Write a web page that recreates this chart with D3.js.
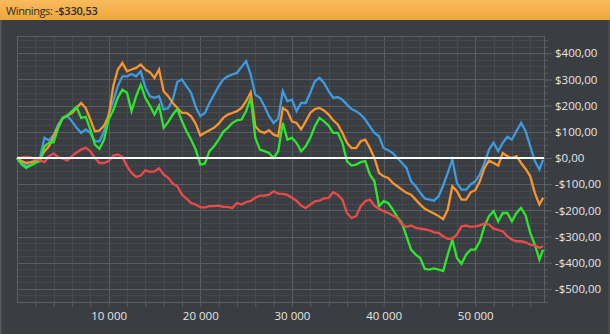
<!DOCTYPE html>
<html>
<head>
<meta charset="utf-8">
<script src="https://cdn.jsdelivr.net/npm/d3@7"></script>
<style>
  body { margin: 0; background: #3a3d41; overflow: hidden; }
  text { font-family: "Open Sans", sans-serif; }
</style>
</head>
<body>
<svg id="chart" width="610" height="334"></svg>
<script>
// hands played, in thousands
var steps = [0,0.5,1,1.5,2,2.5,3,3.5,4,4.5,5,5.5,6,6.5,7,7.5,8,8.5,9,9.5,
  10,10.5,11,11.5,12,12.5,13,13.5,14,14.5,15,15.5,16,16.5,17,17.5,18,18.5,19,19.5,
  20,20.5,21,21.5,22,22.5,23,23.5,24,24.5,25,25.5,26,26.5,27,27.5,28,28.5,29,29.5,
  30,30.5,31,31.5,32,32.5,33,33.5,34,34.5,35,35.5,36,36.5,37,37.5,38,38.5,39,39.5,
  40,40.5,41,41.5,42,42.5,43,43.5,44,44.5,45,45.5,46,46.5,47,47.5,48,48.5,49,49.5,
  50,50.5,51,51.5,52,52.5,53,53.5,54,54.5,55,55.5,56,56.5,57,57.4];

var blue = [0,-19,-31,-25,-19,0,77,67,89,128,153,160,140,115,96,109,96,64,64,102,
  166,217,274,312,312,321,312,331,270,236,230,236,185,191,223,291,300,274,249,195,
  160,172,210,242,274,300,312,319,325,348,370,319,242,230,198,160,134,150,255,217,
  223,179,210,210,249,293,306,287,255,230,233,223,204,187,179,166,147,121,96,83,
  38,30,19,0,-19,-38,-89,-108,-133,-155,-159,-163,-146,-105,-57,-6,-95,-121,-121,-101,
  -89,-63,-19,32,58,26,58,81,70,103,134,102,45,-12,-44,-6];
var orange = [0,-12,-19,-16,-12,-3,26,45,83,121,153,162,172,191,210,191,147,102,105,124,
  159,274,338,363,331,338,344,357,338,328,306,338,255,236,210,191,172,172,159,131,
  86,96,106,115,131,153,166,172,179,191,217,250,121,102,96,106,89,83,191,179,
  140,134,109,140,172,187,191,182,166,144,128,96,58,38,38,64,70,38,0,-57,
  -70,-76,-95,-108,-121,-133,-140,-159,-178,-194,-203,-212,-222,-233,-197,-108,-127,-159,-159,-131,
  -123,-89,-38,-10,-19,-29,19,7,0,7,-19,-42,-70,-133,-178,-152];
var green = [0,-25,-38,-29,-19,-12,45,58,60,115,153,163,179,195,153,157,109,51,35,70,
  147,182,230,261,249,179,236,280,230,200,166,200,115,138,166,187,140,102,70,32,
  -25,-21,26,45,70,100,115,134,144,147,179,230,77,32,26,19,0,26,134,70,
  77,58,26,45,77,121,153,140,124,96,96,58,-12,-29,-25,-16,-12,-63,-89,-184,
  -165,-172,-197,-225,-248,-299,-350,-369,-382,-424,-426,-422,-426,-432,-369,-312,-382,-404,-369,-350,
  -350,-318,-261,-222,-203,-242,-210,-210,-242,-210,-191,-219,-286,-331,-388,-350];
var red = [0,2,4,2,-3,-9,-16,7,17,4,-3,-10,7,21,32,39,26,0,-19,-19,
  -12,9,13,4,-31,-57,-72,-67,-47,-53,-51,-39,-63,-76,-98,-108,-140,-155,-172,-178,
  -188,-189,-184,-184,-182,-187,-187,-191,-172,-178,-168,-164,-152,-144,-144,-140,-127,-136,-137,-141,
  -152,-163,-182,-191,-178,-166,-163,-154,-152,-131,-140,-159,-210,-229,-222,-184,-165,-159,-182,-194,
  -203,-210,-220,-229,-254,-263,-258,-267,-270,-273,-276,-284,-286,-299,-309,-309,-292,-261,-258,-263,
  -261,-257,-250,-254,-270,-275,-280,-299,-312,-318,-318,-322,-331,-334,-343,-337];

var yTicks = [-500,-400,-300,-200,-100,0,100,200,300,400];
var xTicks = [10000,20000,30000,40000,50000];
var title = "Winnings:";
var total = "-$330,53";

var series = [
  { name: "blue", color: "#3d9be0", values: blue },
  { name: "orange", color: "#f7952f", values: orange },
  { name: "green", color: "#2fe62f", values: green },
  { name: "red", color: "#ec4a4a", values: red }
];

var svg = d3.select("#chart");
var plotL = 17, plotR = 544, plotT = 36, plotB = 302;

var x = d3.scaleLinear().domain([0, 57500]).range([plotL, plotR]);
var y = d3.scaleLinear().domain([-550, 466]).range([plotB, plotT]);

var money = function (v) {
  return (v < 0 ? "-" : "") + "$" + Math.abs(v).toFixed(2).replace(".", ",");
};
var thousands = function (v) { return d3.format(",")(v).replace(/,/g, " "); };

// title bar
var defs = svg.append("defs");
var grad = defs.append("linearGradient").attr("id", "titlegrad")
    .attr("x1", 0).attr("y1", 0).attr("x2", 0).attr("y2", 1);
grad.append("stop").attr("offset", "0%").attr("stop-color", "#f9bb5c");
grad.append("stop").attr("offset", "100%").attr("stop-color", "#f0a53d");

svg.append("rect").attr("x", 0).attr("y", 0).attr("width", 610).attr("height", 20)
    .attr("fill", "url(#titlegrad)");
var t = svg.append("text").attr("x", 6).attr("y", 14.5)
    .attr("font-size", 11).attr("fill", "#2b2b2b");
t.append("tspan").attr("letter-spacing", -0.4).text(title + " ");
t.append("tspan").attr("font-weight", 600).attr("letter-spacing", -0.2).text(total);

// window edges
svg.append("rect").attr("x", 0).attr("y", 20).attr("width", 1.5).attr("height", 314).attr("fill", "#55595e");
svg.append("rect").attr("x", 608.5).attr("y", 20).attr("width", 1.5).attr("height", 314).attr("fill", "#4a4e52");

// grid
var grid = svg.append("g");
var vMinor = d3.range(2000, 57500, 2000);
grid.selectAll(".vg").data(vMinor).enter().append("line")
    .attr("x1", function (d) { return Math.round(x(d)) + 0.5; })
    .attr("x2", function (d) { return Math.round(x(d)) + 0.5; })
    .attr("y1", plotT).attr("y2", plotB)
    .attr("stroke", function (d) { return d % 10000 === 0 ? "#5a5e62" : "#484c50"; })
    .attr("stroke-width", 1);

var hMinor = d3.range(-550, 466, 25);
grid.selectAll(".hg").data(hMinor).enter().append("line")
    .attr("x1", plotL).attr("x2", plotR)
    .attr("y1", function (d) { return Math.round(y(d)) + 0.5; })
    .attr("y2", function (d) { return Math.round(y(d)) + 0.5; })
    .attr("stroke", function (d) { return d % 100 === 0 ? "#5a5e62" : "#45494d"; })
    .attr("stroke-width", 1);

svg.append("rect").attr("x", plotL + 0.5).attr("y", plotT + 0.5)
    .attr("width", plotR - plotL).attr("height", plotB - plotT)
    .attr("fill", "none").attr("stroke", "#5c6064");

// axes
var yMinorAxis = d3.axisRight(y).tickValues(hMinor).tickSize(4).tickFormat("");
svg.append("g").attr("transform", "translate(" + plotR + ",0)").call(yMinorAxis)
    .call(function (g) { g.select(".domain").remove(); g.selectAll("line").attr("stroke", "#5c6064"); });

var yAxis = d3.axisRight(y).tickValues(yTicks).tickSize(8).tickPadding(3).tickFormat(money);
svg.append("g").attr("transform", "translate(" + plotR + ",0)").call(yAxis)
    .call(function (g) {
      g.select(".domain").remove();
      g.selectAll("line").attr("stroke", "#5c6064");
      g.selectAll("text").attr("fill", "#e6e6e6").attr("font-size", 11.5)
        .attr("font-family", "'Open Sans', sans-serif");
    });

var xAxis = d3.axisBottom(x).tickValues(vMinor).tickSize(5).tickPadding(5)
    .tickFormat(function (d) { return xTicks.indexOf(d) >= 0 ? thousands(d) : ""; });
svg.append("g").attr("transform", "translate(0," + plotB + ")").call(xAxis)
    .call(function (g) {
      g.select(".domain").remove();
      g.selectAll("line").attr("stroke", "#5c6064");
      g.selectAll("text").attr("fill", "#e6e6e6").attr("font-size", 11.5)
        .attr("font-family", "'Open Sans', sans-serif");
    });

// series
var line = d3.line()
    .x(function (d, i) { return x(steps[i] * 1000); })
    .y(function (d) { return y(d); });

svg.append("g").selectAll("path").data(series).enter().append("path")
    .attr("d", function (s) { return line(s.values); })
    .attr("fill", "none")
    .attr("stroke", function (s) { return s.color; })
    .attr("stroke-width", 2.3)
    .attr("stroke-linejoin", "miter");

// zero line
svg.append("line").attr("x1", plotL).attr("x2", plotR)
    .attr("y1", y(0)).attr("y2", y(0))
    .attr("stroke", "#ffffff").attr("stroke-width", 2);
</script>
</body>
</html>
